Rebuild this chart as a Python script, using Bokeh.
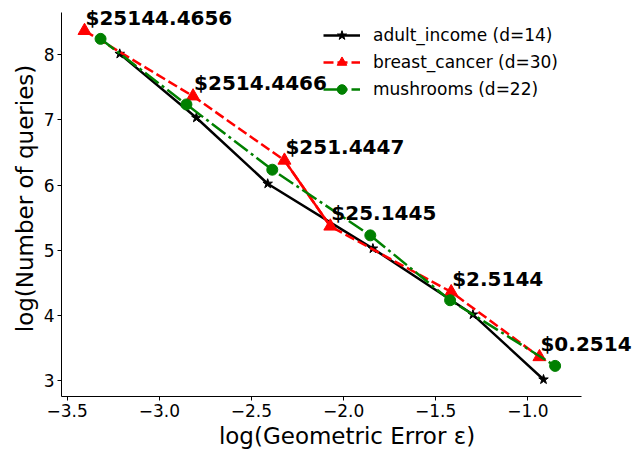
from bokeh.plotting import figure
from bokeh.models import Label, FixedTicker, CustomJSTickFormatter, Range1d, Legend
from bokeh.embed import file_html
from bokeh.resources import INLINE

# ---- data ----
series_names = ["adult_income (d=14)", "breast_cancer (d=30)", "mushrooms (d=22)"]
adult_x = [-3.215, -2.799, -2.412, -1.841, -1.298, -0.915]
adult_y = [8.015, 7.034, 6.021, 5.025, 4.012, 3.015]
breast_x = [-3.406, -2.817, -2.321, -2.072, -1.416, -0.937]
breast_y = [8.370, 7.365, 6.379, 5.367, 4.359, 3.362]
mush_x = [-3.319, -2.853, -2.387, -1.855, -1.422, -0.852]
mush_y = [8.245, 7.238, 6.236, 5.228, 4.232, 3.224]
cost_labels = ["$25144.4656", "$2514.4466", "$251.4447", "$25.1445", "$2.5144", "$0.2514"]
x_ticks = [-3.5, -3.0, -2.5, -2.0, -1.5, -1.0]
y_ticks = [3, 4, 5, 6, 7, 8]

FONT = "DejaVu Sans"

# axes limits (visible spines) and the wider frame so annotations are not clipped
x_axis_bounds = (-3.531, -0.709)
y_axis_bounds = (2.754, 8.654)

p = figure(width=632, height=453, output_backend="svg", toolbar_location=None,
           x_range=Range1d(-3.531, -0.432), y_range=Range1d(2.754, 8.834),
           min_border_left=61, min_border_right=0, min_border_top=0, min_border_bottom=57)
p.outline_line_color = None
p.xgrid.visible = False
p.ygrid.visible = False
p.background_fill_color = "white"
p.border_fill_color = "white"

for ax in (p.xaxis[0], p.yaxis[0]):
    ax.axis_line_color = "black"
    ax.axis_line_width = 1
    ax.major_tick_line_color = "black"
    ax.major_tick_out = 4
    ax.major_tick_in = 0
    ax.minor_tick_out = 0
    ax.minor_tick_in = 0
    ax.major_label_text_font = FONT
    ax.major_label_text_font_size = "17px"
    ax.major_label_text_color = "black"
    ax.axis_label_text_font = FONT
    ax.axis_label_text_font_size = "23px"
    ax.axis_label_text_font_style = "normal"
    ax.axis_label_text_color = "black"
    ax.major_label_standoff = 3
    ax.axis_label_standoff = 3

p.xaxis.bounds = x_axis_bounds
p.yaxis.bounds = y_axis_bounds
p.xaxis.ticker = FixedTicker(ticks=x_ticks)
p.yaxis.ticker = FixedTicker(ticks=y_ticks)
p.xaxis.formatter = CustomJSTickFormatter(code="return (tick < 0 ? '\u2212' : '') + Math.abs(tick).toFixed(1);")
p.yaxis.formatter = CustomJSTickFormatter(code="return tick.toFixed(0);")
p.xaxis.axis_label = "log(Geometric Error ε)"
p.yaxis.axis_label = "log(Number of queries)"

LW = 2.5
# adult_income
l1 = p.line(adult_x, adult_y, line_color="black", line_width=LW)
m1 = p.scatter(adult_x, adult_y, marker="star", size=10, fill_color="black", line_color="black")
# breast_cancer
l2 = p.line(breast_x, breast_y, line_color="red", line_width=LW, line_dash="10 4")
l2b = p.line(breast_x[2:4], breast_y[2:4], line_color="red", line_width=LW)
m2 = p.scatter(breast_x, breast_y, marker="triangle", size=13, fill_color="red", line_color="red")
# mushrooms
l3 = p.line(mush_x, mush_y, line_color="green", line_width=LW, line_dash="17 4 3 4")
m3 = p.scatter(mush_x, mush_y, marker="circle", size=11, fill_color="green", line_color="green")

legend = Legend(items=[(series_names[0], [l1, m1]), (series_names[1], [l2, m2]), (series_names[2], [l3, m3])],
                location=(257, 290))
legend.background_fill_alpha = 0
legend.border_line_alpha = 0
legend.label_text_font = FONT
legend.label_text_font_size = "17px"
legend.label_text_color = "black"
legend.label_height = 24
legend.glyph_height = 24
legend.glyph_width = 37
legend.spacing = 3
legend.padding = 5
legend.label_standoff = 13
p.add_layout(legend)

for xv, yv, txt in zip(breast_x, breast_y, cost_labels):
    p.add_layout(Label(x=xv, y=yv, text=txt, x_offset=1, y_offset=13,
                       text_font=FONT, text_font_size="20px", text_font_style="bold",
                       text_color="black", text_baseline="alphabetic", text_align="left"))

open("out.html", "w").write(file_html(p, INLINE))
